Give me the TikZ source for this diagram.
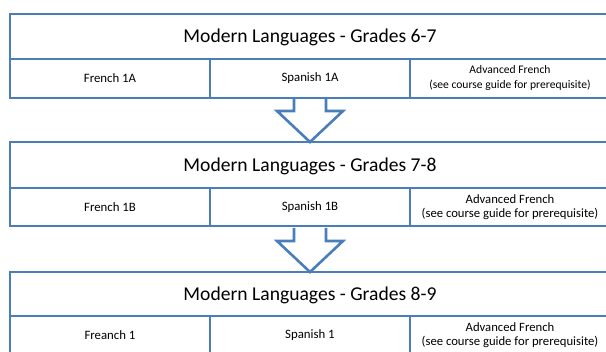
\documentclass[tikz,border=0pt]{standalone}
\usepackage{fontspec}
\setmainfont{Carlito}
\usetikzlibrary{positioning}
\definecolor{frameblue}{HTML}{4A7EBB}

\begin{document}
\begin{tikzpicture}[x=1pt, y=-1pt, line width=2.6pt,
    frame/.style={draw=frameblue},
    title/.style={font=\fontsize{19.6}{22}\selectfont, inner sep=0pt},
    cell/.style={font=\fontsize{12.8}{14}\selectfont, inner sep=0pt, align=center}]
    \clip (0,0) rectangle (606,352);

    % Grade boxes (top, title row height, course names)
    \foreach \i/\t/\h/\g/\fa/\sa/\af in {1/14/45/6-7/French 1A/Spanish 1A/11.6,
                                          2/142/46/7-8/French 1B/Spanish 1B/12.7,
                                          3/272/44/8-9/Freanch 1/Spanish 1/12.7} {
        \draw[frame] (10,\t) rectangle (610,\t+84);
        \draw[frame] (10,\t+\h) -- (610,\t+\h);
        \draw[frame] (210,\t+\h) -- (210,\t+84);
        \draw[frame] (410,\t+\h) -- (410,\t+84);
        \node[title] (title\i) at (310,\t+\h/2+1) {Modern Languages - Grades \g};
        \node[cell] (french\i) at (110,\t+\h+19) {\fa};
        \node[cell] (spanish\i) at (310,\t+\h+19) {\sa};
        \node[cell, font=\fontsize{\af}{14.5}\selectfont] (adv\i) at (510,\t+\h+19)
            {Advanced French\\(see course guide for prerequisite)};
    }

    % Block arrows between the boxes
    \coordinate (tip1) at (310,142);
    \coordinate (tip2) at (310,272);
    \foreach \b/\n in {98/1, 228/2} {
        \draw[frame, line join=miter] (294,\b) -- (294,\b+13) -- (277,\b+13)
            -- (tip\n) -- (343,\b+13) -- (326,\b+13) -- (326,\b);
    }
\end{tikzpicture}
\end{document}
